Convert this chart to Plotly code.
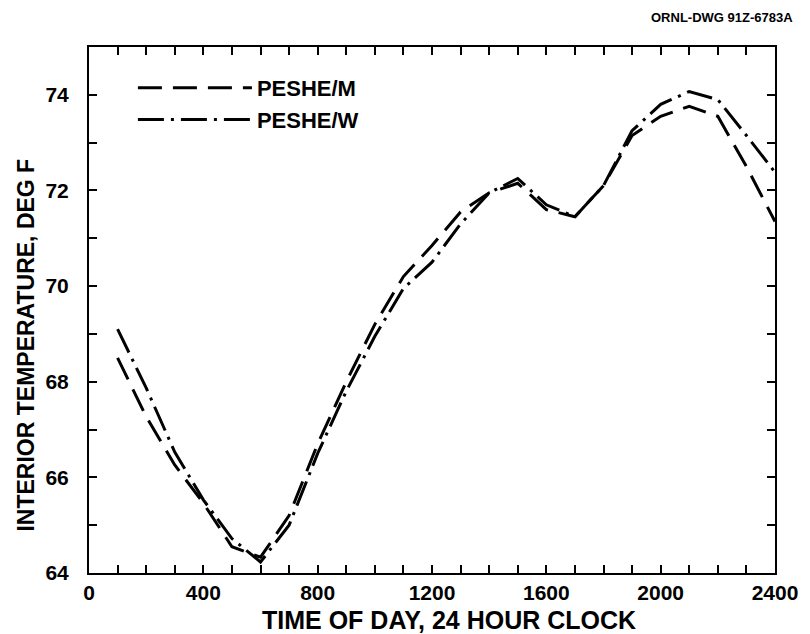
import plotly.graph_objects as go

hours = [100, 200, 300, 400, 500, 600, 700, 800, 900, 1000, 1100, 1200,
         1300, 1400, 1500, 1600, 1700, 1800, 1900, 2000, 2100, 2200, 2300, 2400]
peshe_m = [68.5, 67.27, 66.26, 65.46, 64.55, 64.33, 65.2, 66.7, 68.0, 69.2, 70.2, 70.85,
           71.55, 71.95, 72.15, 71.6, 71.45, 72.1, 73.15, 73.55, 73.76, 73.55, 72.5, 71.35]
peshe_w = [69.1, 67.87, 66.53, 65.53, 64.72, 64.23, 65.0, 66.5, 67.8, 68.95, 69.95, 70.5,
           71.3, 71.95, 72.25, 71.7, 71.45, 72.1, 73.25, 73.8, 74.07, 73.9, 73.15, 72.38]
series_names = ["PESHE/M", "PESHE/W"]

FONT = "Liberation Sans, Arial, sans-serif"

fig = go.Figure()
fig.add_trace(go.Scatter(x=hours, y=peshe_m, mode="lines", name=series_names[0],
                         line=dict(color="black", width=3, dash="24px,11px")))
fig.add_trace(go.Scatter(x=hours, y=peshe_w, mode="lines", name=series_names[1],
                         line=dict(color="black", width=3, dash="26px,7px,3px,7px")))

axis_common = dict(showline=True, linecolor="black", linewidth=2, mirror="allticks",
                   ticks="inside", ticklen=8, tickwidth=2, tickcolor="black",
                   showgrid=False, zeroline=False,
                   tickfont=dict(family=FONT, size=21, color="black", weight="bold"))

fig.update_layout(
    width=810, height=634,
    margin=dict(l=89, r=29, t=47, b=61),
    paper_bgcolor="white", plot_bgcolor="white",
    showlegend=True,
    legend=dict(x=0.064, y=0.962, xanchor="left", yanchor="top", bgcolor="rgba(0,0,0,0)",
                font=dict(family=FONT, size=22, color="black", weight="bold"),
                itemwidth=114, tracegroupgap=0),
    xaxis=dict(range=[0, 2400], dtick=400, tick0=0,
               minor=dict(dtick=100, ticks="inside", ticklen=8, tickwidth=2, tickcolor="black"),
               **axis_common),
    yaxis=dict(range=[64, 75], dtick=2, tick0=64,
               minor=dict(dtick=1, ticks="inside", ticklen=8, tickwidth=2, tickcolor="black"),
               ticklabelstandoff=14,
               **axis_common),
    annotations=[
        dict(text="ORNL-DWG 91Z-6783A", xref="paper", yref="paper",
             x=1.0285, y=1.0, yshift=30, xanchor="right", yanchor="middle",
             showarrow=False,
             font=dict(family=FONT, size=13, color="black", weight="bold")),
        dict(text="TIME OF DAY, 24 HOUR CLOCK", xref="paper", yref="paper",
             x=0.5246, y=-0.0894, xanchor="center", yanchor="middle", showarrow=False,
             font=dict(family=FONT, size=25, color="black", weight="bold")),
        dict(text="INTERIOR TEMPERATURE, DEG F", xref="paper", yref="paper",
             x=-0.0925, y=0.4335, xanchor="center", yanchor="middle", showarrow=False,
             textangle=-90,
             font=dict(family=FONT, size=23, color="black", weight="bold")),
    ],
)

fig.write_html("out.html")
